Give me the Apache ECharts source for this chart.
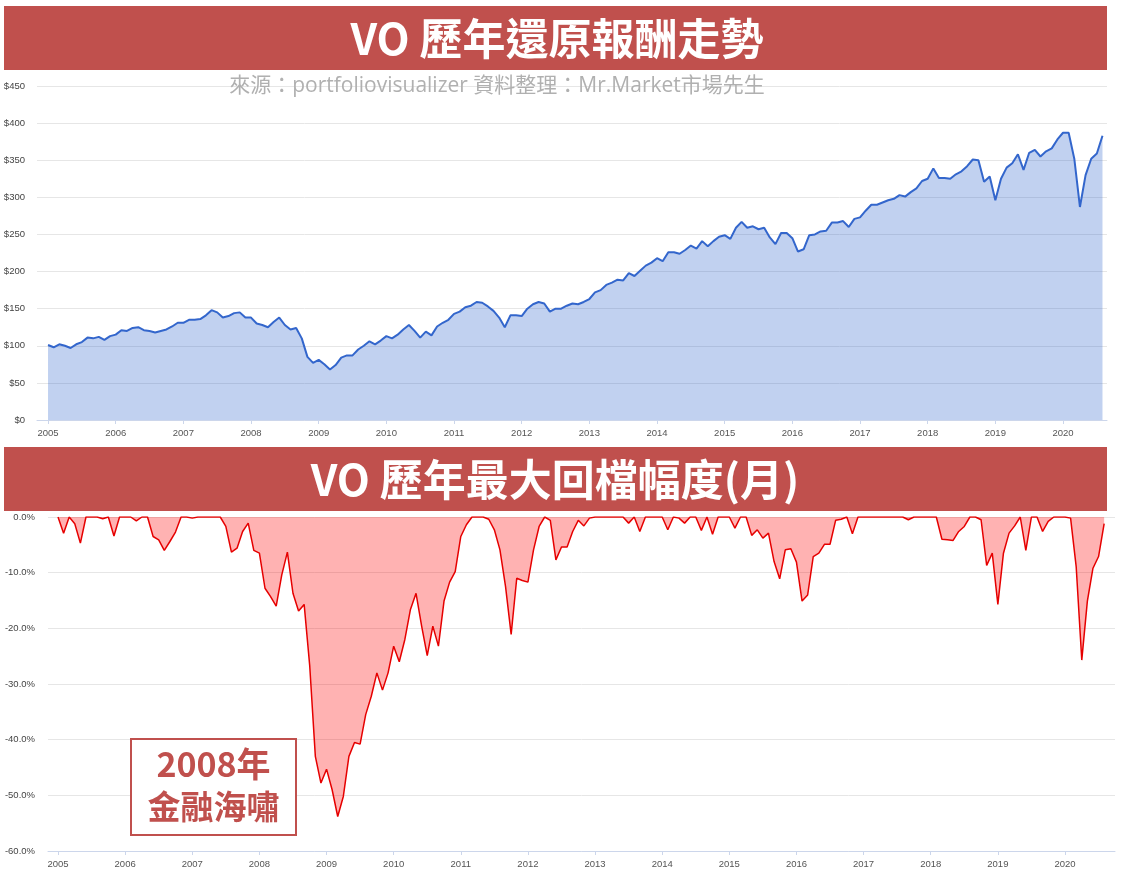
<!DOCTYPE html>
<html>
<head>
<meta charset="utf-8">
<script src="https://cdn.jsdelivr.net/npm/echarts@6/dist/echarts.min.js"></script>
<style>
html,body{margin:0;padding:0;background:#fff;}
#c{width:1122px;height:875px;}
</style>
</head>
<body>
<div id="c"></div>
<script>
// ---------------- DATA ----------------
const startYear = 2005;          // first month: 2005-01
const monthCount = 188;          // through 2020-08
const yearTicks = [2005,2006,2007,2008,2009,2010,2011,2012,2013,2014,2015,2016,2017,2018,2019,2020];

// Growth of $100 (VO), monthly
const voGrowth = [
  101, 98, 102, 100, 97, 102, 105, 111, 110, 112, 108, 113,   // 2005
  115, 121, 120, 124, 125, 121, 120, 118, 120, 122, 126, 131, // 2006
  131, 135, 135, 136, 141, 148, 145, 138, 140, 144, 145, 138, // 2007
  138, 130, 128, 125, 132, 138, 128, 122, 124, 110, 85, 77,   // 2008
  81, 75, 68, 74, 84, 87, 87, 95, 100, 106, 102, 107,         // 2009
  113, 110, 115, 122, 128, 120, 111, 119, 114, 126, 131, 135, // 2010
  143, 146, 152, 154, 159, 158, 153, 147, 138, 125, 141, 141, // 2011
  140, 150, 156, 159, 157, 146, 150, 150, 154, 157, 156, 159, // 2012
  163, 172, 175, 182, 185, 189, 188, 198, 194, 201, 208, 212, // 2013
  218, 214, 226, 226, 224, 229, 235, 231, 241, 234, 241, 247, // 2014
  249, 244, 259, 267, 259, 261, 257, 259, 246, 237, 252, 252, // 2015
  245, 227, 230, 249, 250, 254, 255, 266, 266, 268, 260, 271, // 2016
  273, 282, 290, 290, 293, 296, 298, 303, 301, 307, 312, 322, // 2017
  325, 339, 326, 326, 325, 331, 335, 342, 351, 350, 321, 328, // 2018
  296, 325, 340, 346, 358, 337, 360, 364, 355, 362, 366, 378, // 2019
  387, 387, 352, 287, 330, 352, 359, 383                      // 2020
];

// Drawdown (%), monthly
const voDrawdown = [
  0, -2.9, 0, -1.2, -4.7, 0, 0, 0, -0.3, 0, -3.4, 0,                       // 2005
  0, 0, -0.7, 0, 0, -3.5, -4.1, -6.0, -4.4, -2.7, 0, 0,                    // 2006
  -0.2, 0, 0, 0, 0, 0, -1.7, -6.3, -5.6, -2.6, -1.1, -6.0,                 // 2007
  -6.5, -12.8, -14.3, -16.0, -10.4, -6.3, -13.7, -16.9, -15.7, -26.8, -43.0, -47.8, // 2008
  -45.3, -49.0, -53.8, -50.2, -43.0, -40.5, -40.8, -35.5, -32.2, -28.0, -31.1, -28.0, // 2009
  -23.2, -26.0, -22.0, -16.6, -13.7, -19.6, -24.9, -19.6, -23.2, -15.1, -11.7, -9.8, // 2010
  -3.5, -1.4, 0, 0, 0, -0.4, -2.3, -5.9, -12.5, -21.1, -11.0, -11.4,       // 2011
  -11.7, -5.9, -1.7, 0, -0.6, -7.7, -5.4, -5.4, -2.6, -0.6, -1.6, -0.2,    // 2012
  0, 0, 0, 0, 0, 0, -1.1, 0, -2.6, 0, 0, 0,                                // 2013
  0, -2.3, 0, -0.2, -1.1, 0, 0, -2.4, 0, -3.1, 0, 0,                       // 2014
  0, -2.0, 0, 0, -3.3, -2.3, -3.8, -2.9, -8.0, -11.1, -5.9, -5.7,          // 2015
  -8.1, -15.1, -14.0, -7.1, -6.5, -4.9, -4.9, -0.6, -0.4, 0, -3.0, 0,      // 2016
  0, 0, 0, 0, 0, 0, 0, 0, -0.5, 0, 0, 0,                                   // 2017
  0, 0, -4.0, -4.1, -4.2, -2.6, -1.7, 0, 0, -0.5, -8.7, -6.5,              // 2018
  -15.7, -6.5, -2.9, -1.6, 0, -6.0, 0, 0, -2.6, -0.8, 0, 0,                // 2019
  0, -0.2, -8.9, -25.7, -15.1, -9.2, -7.1, -1.2                            // 2020
];

const titleTop = 'VO 歷年還原報酬走勢';
const titleBottom = 'VO 歷年最大回檔幅度(月)';
const sourceText = '來源：portfoliovisualizer 資料整理：Mr.Market市場先生';
const noteLine1 = '2008年';
const noteLine2 = '金融海嘯';

// ---------------- CHART ----------------
const months = [];
for (let i = 0; i < monthCount; i++) {
  const y = startYear + Math.floor(i / 12);
  const m = (i % 12) + 1;
  months.push(y + '-' + (m < 10 ? '0' + m : m));
}
function monthToX(s) {
  const p = s.split('-');
  return Number(p[0]) + (Number(p[1]) - 1) / 12;
}

const latin = "'Liberation Sans', Arial, sans-serif";
const cjk = "'Noto Sans CJK TC', 'Noto Sans CJK SC', sans-serif";
const srcFont = "'Open Sans', 'Noto Sans CJK TC', sans-serif";
const red = '#c0504d';

function xAxisCfg(gi, min, max) {
  return {
    gridIndex: gi, type: 'value', min: min, max: max,
    splitLine: { show: false },
    axisLine: { show: true, onZero: false, lineStyle: { color: '#ccd6eb', width: 1 } },
    axisTick: { show: true, customValues: yearTicks, length: 4, lineStyle: { color: '#ccd6eb' } },
    axisLabel: { customValues: yearTicks, formatter: v => String(Math.round(v)),
                 fontSize: 9.5, color: '#555', fontFamily: latin, margin: 8 }
  };
}

const chart = echarts.init(document.getElementById('c'), null, { renderer: 'canvas' });
chart.setOption({
  animation: false,
  backgroundColor: '#fff',
  grid: [
    { left: 37, right: 15, top: 86, bottom: 875 - 420 },
    { left: 48, right: 7, top: 517, bottom: 875 - 851 }
  ],
  xAxis: [
    xAxisCfg(0, 2004.837, 2020.650),
    xAxisCfg(1, 2004.851, 2020.745)
  ],
  yAxis: [
    { gridIndex: 0, type: 'value', min: 0, max: 450, interval: 50,
      axisLine: { show: false }, axisTick: { show: false },
      splitLine: { lineStyle: { color: '#e6e6e6' } },
      axisLabel: { formatter: '${value}', fontSize: 9.5, color: '#444', fontFamily: latin, margin: 12 } },
    { gridIndex: 1, type: 'value', min: -60, max: 0, interval: 10,
      axisLine: { show: false }, axisTick: { show: false },
      splitLine: { lineStyle: { color: '#e6e6e6' } },
      axisLabel: { formatter: v => v.toFixed(1) + '%', fontSize: 9.5, color: '#444', fontFamily: latin, margin: 13 } }
  ],
  series: [
    { type: 'line', xAxisIndex: 0, yAxisIndex: 0, symbol: 'none', showSymbol: false,
      data: voGrowth.map((v, i) => [monthToX(months[i]), v]),
      lineStyle: { color: '#3366cc', width: 2 },
      areaStyle: { color: 'rgba(51,102,204,0.3)', opacity: 1 } },
    { type: 'line', xAxisIndex: 1, yAxisIndex: 1, symbol: 'none', showSymbol: false,
      data: voDrawdown.map((v, i) => [monthToX(months[i]), v]),
      lineStyle: { color: '#e60000', width: 1.5 },
      areaStyle: { color: 'rgba(255,0,0,0.3)', opacity: 1 } }
  ],
  graphic: [
    { type: 'rect', z: 50, shape: { x: 4, y: 6, width: 1103, height: 64 }, style: { fill: red } },
    { type: 'text', z: 51, x: 557, y: 39,
      style: { text: titleTop, fill: '#fff', fontSize: 43, fontWeight: 'bold', fontFamily: cjk,
               align: 'center', verticalAlign: 'middle' } },
    { type: 'text', z: 51, x: 497, y: 86,
      style: { text: sourceText, fill: '#b0b0b0', fontSize: 21, fontFamily: srcFont,
               align: 'center', verticalAlign: 'middle' } },
    { type: 'rect', z: 50, shape: { x: 4, y: 447, width: 1103, height: 64 }, style: { fill: red } },
    { type: 'text', z: 51, x: 555, y: 480,
      style: { text: titleBottom, fill: '#fff', fontSize: 43, fontWeight: 'bold', fontFamily: cjk,
               align: 'center', verticalAlign: 'middle' } },
    { type: 'rect', z: 50, shape: { x: 131, y: 739, width: 165, height: 96 },
      style: { fill: '#fff', stroke: red, lineWidth: 2 } },
    { type: 'text', z: 51, x: 213.5, y: 764,
      style: { text: noteLine1, fill: red, fontSize: 34, fontWeight: 'bold', fontFamily: cjk,
               align: 'center', verticalAlign: 'middle' } },
    { type: 'text', z: 51, x: 213.5, y: 806,
      style: { text: noteLine2, fill: red, fontSize: 33, fontWeight: 'bold', fontFamily: cjk,
               align: 'center', verticalAlign: 'middle' } }
  ]
});
</script>
</body>
</html>
